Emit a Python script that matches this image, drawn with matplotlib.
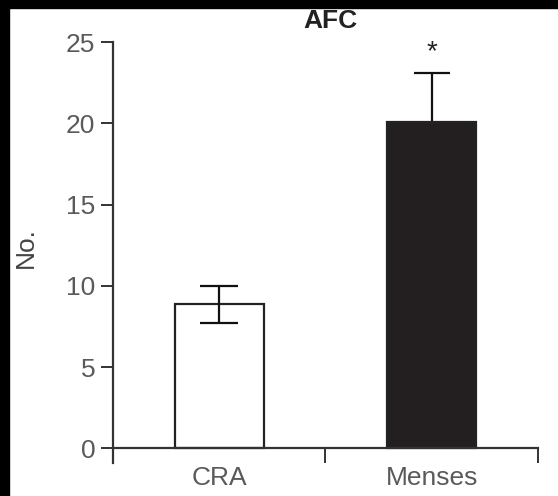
import numpy as np
import matplotlib
matplotlib.use("Agg")
import matplotlib.pyplot as plt
from matplotlib.patches import Rectangle

# data
groups = ["CRA", "Menses"]
means = [8.9, 20.1]
err_low = [1.2, 3.0]
err_high = [1.1, 3.0]
bar_colors = ["white", "#231f20"]
yticks = [0, 5, 10, 15, 20, 25]

plt.rcParams['font.family'] = ['Liberation Sans', 'DejaVu Sans']

fig = plt.figure(figsize=(5.58, 4.96), dpi=100)
fig.patch.set_facecolor("white")
ax = fig.add_axes([0.2025, 0.0665, 0.7615, 0.8485])

x = np.arange(len(groups))
ax.bar(x, means, width=0.42, color=bar_colors, edgecolor="#222222",
       linewidth=1.6, zorder=2)
# CRA error bar drawn over its white bar, Menses one sits behind the dark bar
ax.errorbar(x[:1], means[:1], yerr=[err_low[:1], err_high[:1]], fmt="none",
            ecolor="#111111", elinewidth=1.6, capsize=14, capthick=1.6, zorder=3)
ax.errorbar(x[1:], means[1:], yerr=[err_low[1:], err_high[1:]], fmt="none",
            ecolor="#111111", elinewidth=1.6, capsize=13, capthick=1.6, zorder=1)

# significance star above Menses
ax.text(x[1], means[1] + err_high[1] + 1.3, "*", ha="center", va="center",
        fontsize=20, color="#222222")

ax.set_xlim(-0.5, 1.5)
ax.set_ylim(-0.9, 25)
ax.spines["top"].set_visible(False)
ax.spines["right"].set_visible(False)
ax.spines["bottom"].set_position(("data", 0))
ax.spines["left"].set_color("#333333")
ax.spines["bottom"].set_color("#333333")
ax.spines["left"].set_linewidth(1.6)
ax.spines["bottom"].set_linewidth(1.6)

ax.set_yticks(yticks)
ax.tick_params(axis="y", direction="out", length=8.6, width=1.4,
               color="#333333", labelsize=19, labelcolor="#5a5a5a", pad=4)
ax.set_xticks(x)
ax.set_xticklabels(groups)
ax.set_xticks([0.5, 1.5], minor=True)
ax.tick_params(axis="x", which="major", length=0, labelsize=19,
               labelcolor="#5a5a5a", pad=13)
ax.tick_params(axis="x", which="minor", direction="out", length=11,
               width=1.4, color="#333333")

fig.text(0.047, 0.50, "No.", rotation=90, ha="center", va="center",
         fontsize=19, color="#444444")
fig.text(0.593, 0.957, "AFC", ha="center", va="center", fontsize=19,
         fontweight="bold", color="#222222")

# dark scan borders on the top and left edges
fig.patches.append(Rectangle((0, 0), 9 / 558, 1, transform=fig.transFigure,
                             color="black", zorder=10))
fig.patches.append(Rectangle((0, 1 - 8 / 496), 1, 8 / 496,
                             transform=fig.transFigure, color="black", zorder=10))

fig.savefig("out.png", dpi=100)
